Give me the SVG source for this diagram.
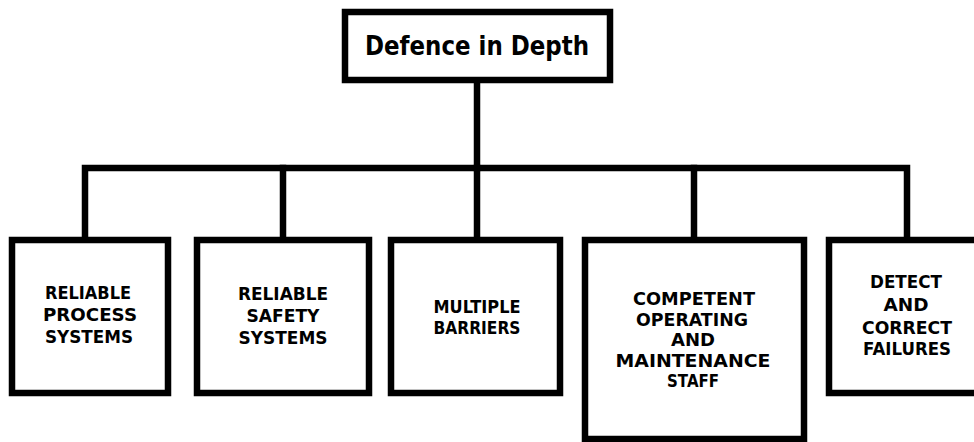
<svg xmlns="http://www.w3.org/2000/svg" width="974" height="442" viewBox="0 0 974 442">
<style>
.box{fill:#fff;stroke:#000;stroke-width:6.5}
.ln{stroke:#000;stroke-width:6.5;fill:none;stroke-linecap:square}
.t{font-family:"DejaVu Sans","Liberation Sans",sans-serif;font-weight:bold;font-size:18px;fill:#000;text-anchor:middle}
.h{font-family:"DejaVu Sans","Liberation Sans",sans-serif;font-weight:bold;font-size:27px;fill:#000;text-anchor:middle}
</style>
<rect width="974" height="442" fill="#fff"/>
<g id="connectors">
<line class="ln" x1="477" y1="84" x2="477" y2="168"/>
<polyline class="ln" points="85,238 85,168 907,168 907,238"/>
<line class="ln" x1="283" y1="168" x2="283" y2="238"/>
<line class="ln" x1="477" y1="168" x2="477" y2="238"/>
<line class="ln" x1="694" y1="168" x2="694" y2="238"/>
</g>
<g id="root">
<rect class="box" x="345" y="12" width="265" height="68"/>
<text class="h" x="477" y="55" textLength="224" lengthAdjust="spacingAndGlyphs">Defence in Depth</text>
</g>
<g id="n1">
<rect class="box" x="12" y="240" width="156" height="153"/>
<text class="t" x="88" y="299" textLength="86" lengthAdjust="spacingAndGlyphs">RELIABLE</text>
<text class="t" x="90" y="320.5" textLength="94" lengthAdjust="spacingAndGlyphs">PROCESS</text>
<text class="t" x="89" y="343" textLength="88" lengthAdjust="spacingAndGlyphs">SYSTEMS</text>
</g>
<g id="n2">
<rect class="box" x="197" y="240" width="172" height="153"/>
<text class="t" x="283" y="300" textLength="90" lengthAdjust="spacingAndGlyphs">RELIABLE</text>
<text class="t" x="283" y="321.5" textLength="73" lengthAdjust="spacingAndGlyphs">SAFETY</text>
<text class="t" x="283" y="343.5" textLength="89" lengthAdjust="spacingAndGlyphs">SYSTEMS</text>
</g>
<g id="n3">
<rect class="box" x="391" y="240" width="169" height="153"/>
<text class="t" x="477" y="313" textLength="87" lengthAdjust="spacingAndGlyphs">MULTIPLE</text>
<text class="t" x="477" y="334" textLength="87" lengthAdjust="spacingAndGlyphs">BARRIERS</text>
</g>
<g id="n4">
<rect class="box" x="585" y="240" width="219" height="199"/>
<text class="t" x="694" y="305" textLength="122" lengthAdjust="spacingAndGlyphs">COMPETENT</text>
<text class="t" x="692" y="325.5" textLength="112" lengthAdjust="spacingAndGlyphs">OPERATING</text>
<text class="t" x="693" y="346" textLength="44" lengthAdjust="spacingAndGlyphs">AND</text>
<text class="t" x="693" y="366.5" textLength="155" lengthAdjust="spacingAndGlyphs">MAINTENANCE</text>
<text class="t" x="693" y="387" textLength="52" lengthAdjust="spacingAndGlyphs">STAFF</text>
</g>
<g id="n5">
<rect class="box" x="829" y="240" width="160" height="153"/>
<text class="t" x="906" y="288" textLength="72" lengthAdjust="spacingAndGlyphs">DETECT</text>
<text class="t" x="906" y="311" textLength="45" lengthAdjust="spacingAndGlyphs">AND</text>
<text class="t" x="907" y="334" textLength="90" lengthAdjust="spacingAndGlyphs">CORRECT</text>
<text class="t" x="907" y="355" textLength="88" lengthAdjust="spacingAndGlyphs">FAILURES</text>
</g>
</svg>
